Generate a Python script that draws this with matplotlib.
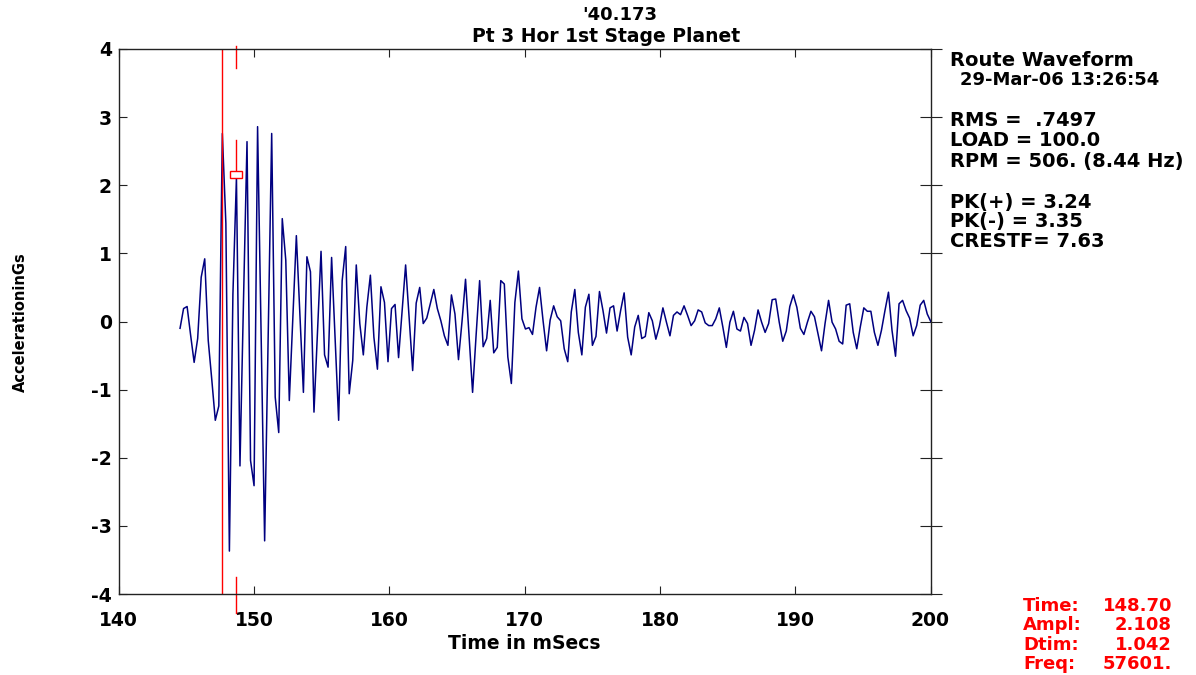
import matplotlib
matplotlib.use("Agg")
import matplotlib.pyplot as plt
import matplotlib.patches as mpatches
import numpy as np

plt.rcParams['font.family'] = ['DejaVu Sans']
plt.rcParams['font.weight'] = 'bold'
plt.rcParams['axes.unicode_minus'] = False

# ---------------- data ----------------
t_start = 144.534          # ms, first sample
dt = 0.2605                # ms, sample interval
accel = [
    -0.10, 0.19, 0.22, -0.20, -0.60, -0.25, 0.65, 0.92, -0.28, -0.85,
    -1.45, -1.24, 2.76, 1.44, -3.37, 0.40, 2.11, -2.12, 0.30, 2.64,
    -2.04, -2.41, 2.86, -0.20, -3.22, -0.20, 2.76, -1.11, -1.63, 1.51,
    0.90, -1.16, 0.05, 1.26, 0.10, -1.04, 0.95, 0.73, -1.33, -0.15,
    1.03, -0.49, -0.67, 0.94, -0.25, -1.45, 0.60, 1.10, -1.06, -0.57,
    0.83, -0.03, -0.49, 0.21, 0.68, -0.23, -0.70, 0.51, 0.28, -0.59,
    0.19, 0.25, -0.53, 0.15, 0.83, 0.05, -0.72, 0.27, 0.50, -0.03,
    0.05, 0.26, 0.47, 0.19, 0.01, -0.21, -0.35, 0.39, 0.11, -0.56,
    0.00, 0.62, -0.20, -1.04, -0.20, 0.60, -0.37, -0.25, 0.31, -0.46,
    -0.38, 0.60, 0.55, -0.52, -0.91, 0.28, 0.74, 0.04, -0.11, -0.09,
    -0.19, 0.21, 0.50, 0.01, -0.43, 0.02, 0.23, 0.07, 0.01, -0.40,
    -0.59, 0.14, 0.47, -0.16, -0.49, 0.21, 0.40, -0.35, -0.22, 0.44,
    0.16, -0.17, 0.20, 0.23, -0.14, 0.16, 0.42, -0.23, -0.49, -0.08,
    0.09, -0.25, -0.22, 0.13, 0.01, -0.26, -0.07, 0.20, -0.01, -0.21,
    0.09, 0.14, 0.10, 0.23, 0.09, -0.06, 0.01, 0.17, 0.14, -0.02,
    -0.06, -0.06, 0.04, 0.20, -0.08, -0.38, -0.01, 0.15, -0.11, -0.14,
    0.06, -0.03, -0.35, -0.13, 0.17, -0.01, -0.16, -0.03, 0.32, 0.33,
    -0.01, -0.29, -0.14, 0.22, 0.39, 0.21, -0.10, -0.19, -0.01, 0.15,
    0.07, -0.18, -0.43, -0.03, 0.31, -0.01, -0.11, -0.29, -0.33, 0.24,
    0.26, -0.16, -0.40, -0.08, 0.20, 0.15, 0.15, -0.16, -0.35, -0.13,
    0.16, 0.43, -0.13, -0.51, 0.26, 0.31, 0.16, 0.05, -0.21, -0.06,
    0.24, 0.31, 0.11, 0.00,
]
time_ms = t_start + dt * np.arange(len(accel))

x_ticks = [140, 150, 160, 170, 180, 190, 200]
y_ticks = [-4, -3, -2, -1, 0, 1, 2, 3, 4]

cursor1_time = 147.66
cursor2_time = 148.70
cursor2_ampl = 2.108

title_top = "'40.173"
title_main = "Pt 3 Hor 1st Stage Planet"
info_lines = [
    ("Route Waveform", 950, 60, 14),
    ("29-Mar-06 13:26:54", 960, 80, 13),
    ("RMS =  .7497", 950, 121, 14),
    ("LOAD = 100.0", 950, 141, 14),
    ("RPM = 506. (8.44 Hz)", 950, 161, 14),
    ("PK(+) = 3.24", 950, 202, 14),
    ("PK(-) = 3.35", 950, 222, 14),
    ("CRESTF= 7.63", 950, 242, 14),
]
cursor_labels = ["Time:", "Ampl:", "Dtim:", "Freq:"]
cursor_values = ["148.70", "2.108", "1.042", "57601."]

# ---------------- figure ----------------
W, H = 1196, 675
fig = plt.figure(figsize=(W / 100, H / 100), dpi=100)
L, R, T, B = 118.7, 930.5, 49, 594
ax = fig.add_axes([L / W, 1 - B / H, (R - L) / W, (B - T) / H])

ax.plot(time_ms, accel, color='#000080', lw=1.1)

ax.set_xlim(140, 200)
ax.set_ylim(-4, 4)
ax.set_xticks(x_ticks)
ax.set_yticks(y_ticks)
ax.tick_params(axis='both', which='both', direction='in', length=6, width=0.8,
               labelsize=13.5, top=True, right=True, colors='#222222')
ax.tick_params(axis='y', which='both', right=True, labelright=False)
for lab in ax.get_xticklabels() + ax.get_yticklabels():
    lab.set_color('black')
    lab.set_fontweight('bold')
ax.tick_params(axis='x', pad=12)
ax.tick_params(axis='y', pad=5)
for t in ax.yaxis.get_major_ticks():
    t.tick2line.set_marker('_')
    t.tick2line.set_markersize(16)
for s in ax.spines.values():
    s.set_linewidth(1.0)
    s.set_color('#222222')

# cursors
ax.axvline(cursor1_time, color='red', lw=1.0)
ax.plot([cursor2_time, cursor2_time], [4.05, 3.72], color='red', lw=1.0, clip_on=False)
ax.plot([cursor2_time, cursor2_time], [2.66, 2.21], color='red', lw=1.0)
ax.plot([cursor2_time, cursor2_time], [-3.75, -4.28], color='red', lw=1.0, clip_on=False)
ax.add_patch(mpatches.Rectangle((cursor2_time - 0.45, cursor2_ampl), 0.9, 0.1,
                                fill=True, facecolor='white', edgecolor='red', lw=1.0, zorder=3))

ax.set_xlabel("Time in mSecs", fontsize=13.5, fontweight='bold', labelpad=3)
fig.text(20 / W, 1 - 322 / H, "AccelerationinGs", rotation=90, fontsize=10.5,
         fontweight='bold', ha='center', va='center')

fig.text(620 / W, 1 - 15 / H, title_top, fontsize=13, fontweight='bold', ha='center', va='center')
fig.text(606 / W, 1 - 36 / H, title_main, fontsize=13.5, fontweight='bold', ha='center', va='center')

for txt, x, y, fs in info_lines:
    fig.text(x / W, 1 - y / H, txt, fontsize=fs, fontweight='bold', ha='left', va='center')

for i, (lab, val) in enumerate(zip(cursor_labels, cursor_values)):
    y = 606 + i * 19.3
    fig.text(1023 / W, 1 - y / H, lab, fontsize=13, fontweight='bold', color='red',
             ha='left', va='center')
    fig.text(1172 / W, 1 - y / H, val, fontsize=13, fontweight='bold', color='red',
             ha='right', va='center')

fig.savefig("out.png", dpi=100)
